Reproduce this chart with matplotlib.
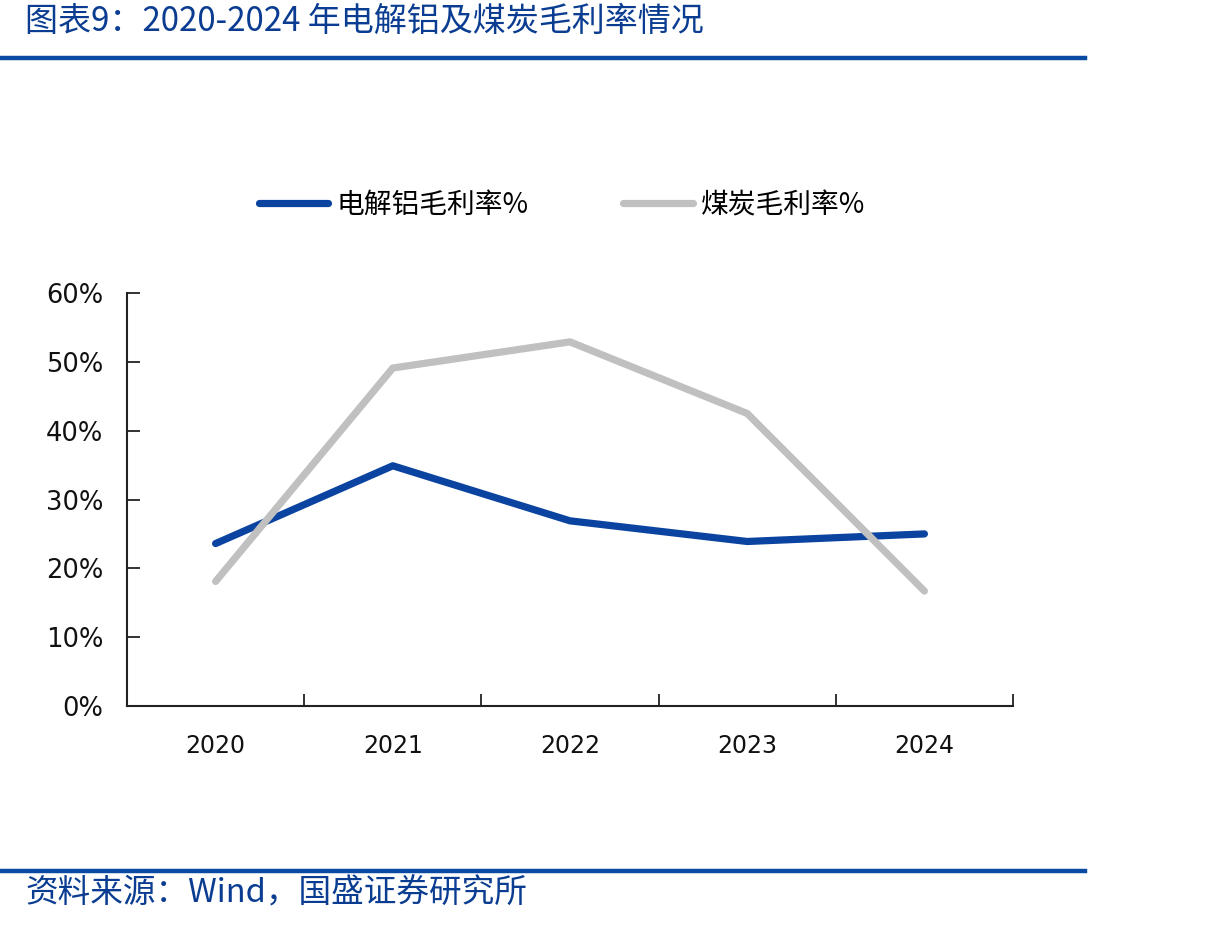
import matplotlib.pyplot as plt
from matplotlib.lines import Line2D

plt.rcParams['font.family'] = ['DejaVu Sans', 'Noto Sans CJK SC']

years = ['2020', '2021', '2022', '2023', '2024']
alu_margin = [23.6, 34.9, 26.9, 23.9, 25.0]
coal_margin = [18.1, 49.1, 52.9, 42.5, 16.7]
y_ticks = [0, 10, 20, 30, 40, 50, 60]

blue = '#0b43a0'
gray = '#c0c0c0'
title_blue = '#0a3d91'
cjk = ['Noto Sans CJK SC', 'DejaVu Sans']

fig = plt.figure(figsize=(12.05, 9.27), dpi=100)
ax = fig.add_axes([127 / 1205, 1 - 706 / 927, (1013 - 127) / 1205, (706 - 293) / 927])

x = list(range(len(years)))
ax.plot(x, alu_margin, color=blue, lw=5.2, solid_capstyle='round', solid_joinstyle='round')
ax.plot(x, coal_margin, color=gray, lw=5.2, solid_capstyle='round', solid_joinstyle='round')

ax.set_xlim(-0.5, len(years) - 0.5)
ax.set_ylim(0, 60)
ax.set_yticks(y_ticks)
ax.set_yticklabels([f'{v}%' for v in y_ticks])

# category boundaries carry the tick marks, labels sit at the centres
ax.set_xticks([i + 0.5 for i in x])
ax.set_xticklabels([])
ax.set_xticks(x, minor=True)
ax.set_xticklabels(years, minor=True)
ax.tick_params(axis='x', which='major', direction='in', length=9, width=1.3, color='#222222')
ax.tick_params(axis='x', which='minor', length=0, pad=20, labelsize=17, labelcolor='#111111')
ax.tick_params(axis='y', direction='in', length=9, width=1.3, color='#222222', pad=17,
               labelsize=18.5, labelcolor='#111111')

for s in ['top', 'right']:
    ax.spines[s].set_visible(False)
for s in ['left', 'bottom']:
    ax.spines[s].set_linewidth(1.5)
    ax.spines[s].set_color('#222222')

handles = [Line2D([], [], color=blue, lw=5.2, solid_capstyle='round'),
           Line2D([], [], color=gray, lw=5.2, solid_capstyle='round')]
fig.legend(handles, ['电解铝毛利率%', '煤炭毛利率%'], loc='center',
           bbox_to_anchor=(562 / 1205, 1 - 205 / 927), ncol=2, frameon=False,
           handlelength=2.5, handletextpad=0.3, columnspacing=3.4,
           prop={'family': cjk, 'size': 20})

# header and footer
fig.text(25 / 1205, 1 - 21 / 927, '图表9：2020-2024 年电解铝及煤炭毛利率情况',
         color=title_blue, fontsize=23.8, style='italic', family=cjk, va='center', ha='left')
fig.add_artist(Line2D([0, 1085 / 1205], [1 - 58 / 927] * 2, color='#0b4aa2', lw=3.2))
fig.add_artist(Line2D([0, 1085 / 1205], [1 - 871 / 927] * 2, color='#0b4aa2', lw=3.2))
fig.text(25 / 1205, 1 - 894 / 927, '资料来源：Wind，国盛证券研究所',
         color=title_blue, fontsize=23.5, style='italic', family=cjk, va='center', ha='left')

fig.savefig('out.png', dpi=100)
